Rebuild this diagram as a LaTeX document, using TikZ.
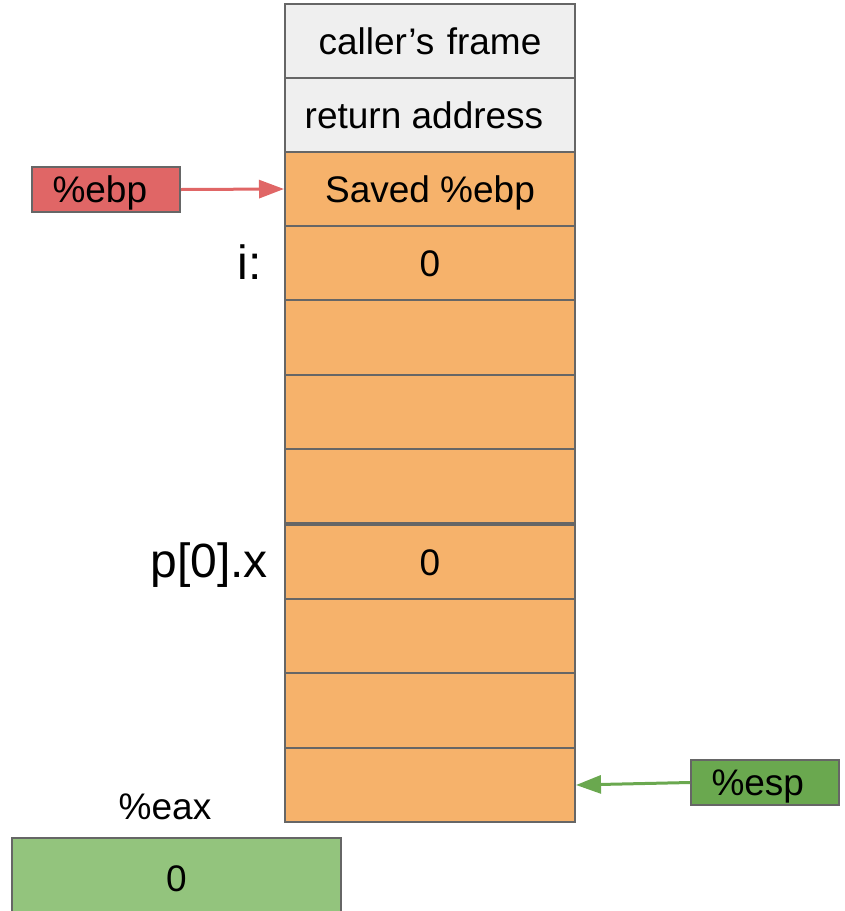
\documentclass[tikz,border=0pt]{standalone}
\usepackage{fontspec}
\setmainfont{Liberation Sans}
\usetikzlibrary{arrows.meta}
\definecolor{cellgrey}{HTML}{EFEFEF}
\definecolor{cellorange}{HTML}{F6B26B}
\definecolor{regred}{HTML}{E06666}
\definecolor{reggreen}{HTML}{6AA84F}
\definecolor{reglight}{HTML}{93C47D}
\definecolor{edgegrey}{HTML}{666666}

\begin{document}
\begin{tikzpicture}[x=1pt,y=-1pt,
  txt/.style={font=\fontsize{37}{42}\selectfont, text height=26.5pt, text depth=0pt},
  bigtxt/.style={font=\fontsize{48}{54}\selectfont, text height=35pt, text depth=0pt, inner sep=0pt},
  cell/.style={txt, draw=edgegrey, line width=2pt, minimum width=290pt,
    minimum height=74pt, inner sep=0pt, anchor=north west},
  grey/.style={cell, fill=cellgrey},
  frame/.style={cell, fill=cellorange},
  reg/.style={txt, draw=edgegrey, line width=2pt, minimum height=45pt,
    text width=107pt, align=left, inner xsep=20.5pt, inner ysep=0pt},
  ptr/.style={line width=3pt, -{Triangle[length=25pt,width=18pt]}}]
\useasboundingbox (0,0) rectangle (845,911);

% stack cells, highest address on top
\node[grey, text width=290pt, align=center] (r1) at (284,3) {caller’s frame};
\node[grey] (r2) at (284,77) {\hspace*{-12pt}return address};
\node[frame] (r3) at (284,151) {Saved \%ebp};
\node[frame] (r4) at (284,225) {0};
\node[frame, minimum height=75pt] (r5) at (284,299) {};
\node[frame] (r6) at (284,374) {};
\node[frame] (r7) at (284,448) {};
\node[frame] (r8) at (284,524) {0};
\node[frame] (r9) at (284,598) {};
\node[frame, minimum height=75pt] (r10) at (284,672) {};
\node[frame] (r11) at (284,747) {};

% variable names beside their slots
\node[bigtxt, anchor=east] (vi) at (262,262) {i:};
\node[bigtxt, anchor=east] (vp) at (268,560) {p[0].x};

% registers
\node[reg, fill=regred] (ebp) at (106,189.5) {\%ebp};
\node[reg, fill=reggreen] (esp) at (765,782.5) {\%esp};
\draw[ptr, regred] (ebp.east) -- (r3.west);
\draw[ptr, reggreen] (esp.west) -- (r11.east);

\node[txt] (eaxlbl) at (165,806) {\%eax};
\node[txt, draw=edgegrey, fill=reglight, line width=2pt, minimum width=329pt,
  minimum height=80pt, inner sep=0pt] (eax) at (176.5,878) {0};
\end{tikzpicture}
\end{document}
